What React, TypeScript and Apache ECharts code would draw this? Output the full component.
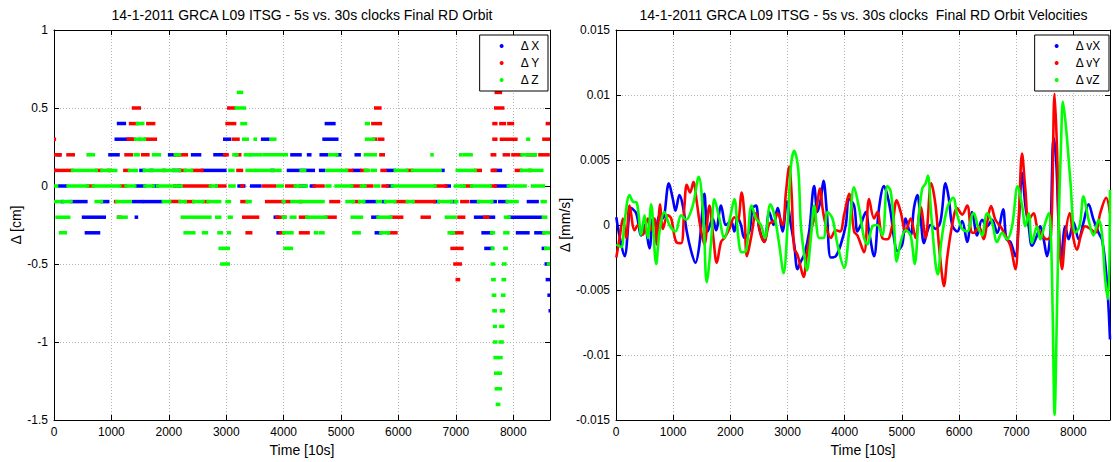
import React, { useEffect, useRef } from "react";
import * as echarts from "echarts";

const X_MAX = 8640;
const FONT = "Liberation Sans, Arial, Helvetica, sans-serif";

const titleLeft = "14-1-2011 GRCA L09 ITSG - 5s vs. 30s clocks Final RD Orbit";
const titleRight = "14-1-2011 GRCA L09 ITSG - 5s vs. 30s clocks  Final RD Orbit Velocities";

// Left panel: quantized differences, runs of constant value [start, end, level in cm]
const dxRuns: number[][] = [
  [1120, 1230, 0.4], [4740, 4880, 0.4],
  [1080, 1350, 0.3], [2970, 3060, 0.3], [3630, 3730, 0.3], [4700, 4930, 0.3],
  [70, 100, 0.2], [970, 1120, 0.2], [2010, 2100, 0.2], [2410, 2540, 0.2], [2800, 2970, 0.2], [4140, 4290, 0.2], [4430, 4460, 0.2], [4650, 4750, 0.2], [4930, 4980, 0.2], [5260, 5320, 0.2],
  [0, 10, 0.1], [1510, 1570, 0.1], [1690, 1710, 0.1], [2080, 2190, 0.1], [2580, 2980, 0.1], [3790, 3820, 0.1], [4080, 4520, 0.1], [4640, 4700, 0.1], [5220, 5330, 0.1], [5810, 5930, 0.1], [6770, 6780, 0.1], [7660, 7780, 0.1],
  [90, 210, 0], [1440, 1580, 0], [1730, 1800, 0], [2130, 2190, 0], [3220, 3310, 0], [3440, 3590, 0], [4290, 4370, 0], [4480, 4530, 0], [5810, 5890, 0], [6830, 6890, 0], [7690, 7910, 0],
  [140, 150, -0.1], [300, 560, -0.1], [830, 940, -0.1], [1380, 1540, -0.1], [1580, 1870, -0.1], [5400, 5600, -0.1], [5730, 5770, -0.1], [6630, 6700, -0.1], [6920, 6990, -0.1], [7270, 7390, -0.1], [7630, 7690, -0.1], [7760, 7890, -0.1], [8260, 8420, -0.1],
  [510, 880, -0.2], [1430, 1440, -0.2], [3850, 3900, -0.2], [5550, 5640, -0.2], [7340, 7540, -0.2], [7590, 7660, -0.2], [7930, 8480, -0.2],
  [560, 780, -0.3], [3900, 3920, -0.3], [5610, 5690, -0.3], [7470, 7620, -0.3], [8070, 8260, -0.3], [8390, 8530, -0.3],
  [7520, 7630, -0.4], [8520, 8560, -0.4],
  [8570, 8610, -0.5], [8590, 8630, -0.6], [8620, 8640, -0.7], [8640, 8640, -0.8],
];

const dyRuns: number[][] = [
  [7700, 7780, 0.6],
  [1380, 1490, 0.5], [3040, 3140, 0.5], [5600, 5680, 0.5], [7690, 7820, 0.5],
  [1330, 1450, 0.4], [1630, 1740, 0.4], [3010, 3150, 0.4], [5550, 5690, 0.4], [7660, 7700, 0.4], [7780, 7850, 0.4], [7920, 7990, 0.4], [8590, 8640, 0.4],
  [0, 10, 0.3], [1290, 1400, 0.3], [1590, 1770, 0.3], [3120, 3210, 0.3], [5570, 5610, 0.3], [5670, 5730, 0.3], [7660, 7700, 0.3], [7790, 8050, 0.3], [8530, 8640, 0.3],
  [0, 110, 0.2], [240, 340, 0.2], [1250, 1350, 0.2], [1540, 1640, 0.2], [2110, 2170, 0.2], [2190, 2310, 0.2], [2970, 3020, 0.2], [3180, 3240, 0.2], [5690, 5740, 0.2], [7630, 7680, 0.2], [7840, 7920, 0.2], [7990, 8140, 0.2], [8250, 8380, 0.2], [8460, 8610, 0.2],
  [0, 320, 0.1], [740, 830, 0.1], [940, 970, 0.1], [1230, 1290, 0.1], [1900, 1930, 0.1], [2190, 2290, 0.1], [2410, 2580, 0.1], [3200, 3270, 0.1], [5100, 5190, 0.1], [5360, 5450, 0.1], [5710, 5770, 0.1], [6150, 6240, 0.1], [7340, 7430, 0.1], [7630, 7690, 0.1], [8050, 8140, 0.1], [8280, 8300, 0.1],
  [590, 680, 0], [1170, 1250, 0], [2100, 2150, 0], [2250, 2720, 0], [2830, 2980, 0], [3270, 3290, 0], [3650, 3850, 0], [4050, 4200, 0], [4530, 4690, 0], [5190, 5350, 0], [5420, 5540, 0], [5730, 5810, 0], [6640, 6830, 0], [7150, 7270, 0], [7620, 7690, 0],
  [1070, 1080, -0.1], [2020, 2190, -0.1], [2290, 2430, -0.1], [2600, 2680, -0.1], [3270, 3360, -0.1], [3700, 3970, -0.1], [4000, 4110, -0.1], [4290, 4310, -0.1], [4820, 4960, -0.1], [5220, 5320, -0.1], [5940, 6150, -0.1], [6260, 6630, -0.1], [7100, 7210, -0.1],
  [1120, 1150, -0.2], [3300, 3550, -0.2], [3880, 4020, -0.2], [4290, 4400, -0.2], [4740, 4900, -0.2], [5870, 6060, -0.2], [6410, 6540, -0.2], [7050, 7140, -0.2], [7500, 7560, -0.2],
  [3360, 3430, -0.3], [3940, 4000, -0.3], [4290, 4430, -0.3], [5830, 5960, -0.3], [6930, 7110, -0.3],
  [6930, 7110, -0.4], [6980, 7080, -0.5], [7020, 7050, -0.6],
];

const dzRuns: number[][] = [
  [3210, 3270, 0.6],
  [3170, 3320, 0.5],
  [1450, 1550, 0.4], [3270, 3340, 0.4], [5440, 5480, 0.4],
  [1420, 1490, 0.3], [1490, 1580, 0.3], [3300, 3370, 0.3], [3500, 3510, 0.3], [3780, 3850, 0.3], [5440, 5570, 0.3], [8250, 8270, 0.3],
  [590, 690, 0.2], [1410, 1470, 0.2], [1730, 1840, 0.2], [2110, 2190, 0.2], [3130, 3190, 0.2], [3330, 3410, 0.2], [3430, 3610, 0.2], [3660, 4050, 0.2], [4800, 4930, 0.2], [5420, 5600, 0.2], [6580, 6590, 0.2], [7080, 7090, 0.2], [7140, 7270, 0.2], [8150, 8390, 0.2],
  [320, 740, 0.1], [830, 940, 0.1], [970, 1080, 0.1], [1310, 1440, 0.1], [1570, 1640, 0.1], [1670, 1900, 0.1], [1930, 2080, 0.1], [2110, 2190, 0.1], [2280, 2400, 0.1], [3060, 3120, 0.1], [3360, 3500, 0.1], [3530, 3790, 0.1], [3840, 3940, 0.1], [4300, 4370, 0.1], [4750, 5100, 0.1], [5420, 5480, 0.1], [5540, 5600, 0.1], [5940, 6150, 0.1], [6240, 6730, 0.1], [7020, 7340, 0.1], [8140, 8270, 0.1], [8300, 8500, 0.1],
  [0, 50, 0], [240, 590, 0], [680, 1150, 0], [1250, 1410, 0], [1580, 1730, 0], [1800, 2130, 0], [2150, 2220, 0], [2720, 2830, 0], [3060, 3140, 0], [3900, 3980, 0], [4200, 4400, 0], [4750, 4810, 0], [4910, 5190, 0], [5350, 5420, 0], [5600, 5660, 0], [5890, 6640, 0], [6990, 7080, 0], [7100, 7150, 0], [7270, 7600, 0], [7910, 8210, 0], [8330, 8530, 0],
  [0, 110, -0.1], [160, 300, -0.1], [730, 830, -0.1], [1090, 1330, -0.1], [1900, 2020, -0.1], [2190, 2290, -0.1], [2430, 2600, -0.1], [2680, 2890, -0.1], [3010, 3060, -0.1], [3360, 3420, -0.1], [3990, 4010, -0.1], [4140, 4250, -0.1], [4290, 4690, -0.1], [5100, 5220, -0.1], [5320, 5400, -0.1], [5630, 5690, -0.1], [5770, 5940, -0.1], [6150, 6260, -0.1], [6700, 6930, -0.1], [6990, 7020, -0.1], [7390, 7630, -0.1], [7890, 8070, -0.1], [8500, 8560, -0.1],
  [50, 260, -0.2], [1120, 1260, -0.2], [2230, 2720, -0.2], [2830, 2890, -0.2], [3050, 3090, -0.2], [3990, 4030, -0.2], [4130, 4200, -0.2], [4400, 4740, -0.2], [5190, 5360, -0.2], [5640, 5870, -0.2], [6830, 6990, -0.2], [7860, 7930, -0.2], [8520, 8570, -0.2],
  [110, 200, -0.3], [2280, 2440, -0.3], [2600, 2660, -0.3], [2870, 2920, -0.3], [3040, 3060, -0.3], [4000, 4150, -0.3], [4550, 4580, -0.3], [4640, 4690, -0.3], [5220, 5320, -0.3], [5690, 5830, -0.3], [6880, 6960, -0.3], [7620, 7660, -0.3], [7850, 7910, -0.3], [8530, 8640, -0.3],
  [2890, 3040, -0.4], [4020, 4140, -0.4], [7630, 7650, -0.4], [7850, 7880, -0.4], [8560, 8640, -0.4],
  [2920, 3040, -0.5], [7630, 7660, -0.5], [7830, 7860, -0.5], [8610, 8630, -0.5],
  [7640, 7670, -0.6], [7820, 7850, -0.6],
  [7650, 7680, -0.7], [7810, 7840, -0.7],
  [7660, 7690, -0.8], [7790, 7830, -0.8],
  [7670, 7690, -0.9], [7780, 7820, -0.9],
  [7670, 7700, -1.0], [7770, 7810, -1.0],
  [7680, 7710, -1.1], [7760, 7790, -1.1],
  [7690, 7720, -1.2], [7750, 7780, -1.2],
  [7700, 7780, -1.3],
  [7720, 7750, -1.4],
];

// Right panel: velocity differences [time, mm/s]
const dvx: number[][] = [
  [5, 0.0006], [60, -0.0008], [150, -0.0024], [266, 0.0013], [353, 0.0009], [441, -0.0008], [499, 0.0], [586, -0.0018], [645, 0.0005], [703, -0.0001], [761, 0.00075], [819, 0.0005], [924, 0.0032], [994, 0.002], [1040, 0.0011], [1110, 0.0023], [1168, 0.0015], [1238, -0.0005], [1314, -0.002], [1389, -0.0029], [1459, -0.0015], [1546, 0.0024], [1604, -0.0005], [1692, 0.0005], [1750, -0.0004], [1837, 0.0015], [1924, 0.0], [2011, 0.0003],
  [2070, -0.0005], [2128, 0.0006], [2186, 0.0], [2245, -0.001], [2332, -0.0005], [2390, 0.0013], [2448, 0.0015], [2506, -0.0003], [2594, -0.0013], [2681, 0.001], [2756, 0.0], [2826, 0.0013], [2913, -0.0005], [2989, 0.0018], [3059, 0.0], [3117, -0.0015], [3175, -0.0034], [3233, -0.0028], [3291, -0.0023], [3379, -0.0005], [3466, 0.003], [3524, 0.001], [3582, 0.002], [3629, 0.0034], [3687, 0.001], [3757, -0.0025], [3844, -0.0024], [3931, -0.0015], [4019, 0.0], [4077, 0.002],
  [4164, 0.0015], [4222, -0.0005], [4280, 0.0], [4368, 0.001], [4426, -0.0005], [4513, -0.0024], [4600, 0.0013], [4688, 0.003], [4746, 0.0023], [4804, 0.001], [4862, -0.001], [4920, -0.002], [5007, -0.0015], [5066, 0.0005], [5153, -0.0008], [5211, 0.0013], [5269, 0.0023], [5328, 0.0005], [5386, -0.0014], [5444, -0.0005], [5502, 0.0], [5589, -0.0003], [5676, 0.0003], [5764, 0.0032], [5822, 0.002], [5880, 0.0], [5967, -0.0005], [6054, 0.0003], [6142, -0.0013], [6229, 0.001],
  [6316, -0.0008], [6403, 0.0004], [6491, -0.0001], [6578, 0.0004], [6665, -0.0006], [6770, 0.0012], [6828, -0.0011], [6898, -0.0013], [6985, -0.0024], [7043, 0.0002], [7102, 0.004], [7160, 0.0015], [7218, -0.0001], [7276, -0.0016], [7363, -0.0008], [7421, -0.0001], [7480, -0.0011], [7538, -0.0024], [7596, -0.0006], [7654, 0.0067], [7701, 0.0048], [7742, -0.0001], [7782, -0.0026], [7858, -0.0001], [7916, -0.0011], [8003, 0.0002], [8090, -0.0011], [8177, 0.0002], [8265, 0.0016], [8352, 0.0004], [8440, -0.0006], [8498, -0.0011], [8556, -0.0029], [8602, -0.0054], [8640, -0.0088],
];

const dvy: number[][] = [
  [5, -0.0025], [63, -0.001], [121, 0.0005], [179, -0.001], [237, 0.0015], [325, -0.0004], [383, 0.0], [470, -0.00075], [557, 0.0005], [615, -0.0004], [674, 0.0005], [714, -0.0015], [772, 0.0016], [819, -0.0003], [906, 0.00075], [965, 0.0005], [1052, -0.0013], [1139, -0.0014], [1197, 0.0015], [1238, 0.0031], [1296, 0.0025], [1354, 0.0033], [1412, 0.0018], [1470, 0.0], [1546, -0.0015], [1634, 0.0015], [1703, -0.001], [1762, -0.0029], [1837, -0.0013], [1895, -0.001], [1983, -0.0003],
  [2070, 0.0006], [2128, 0.0003], [2198, 0.0025], [2245, 0.0008], [2291, -0.0024], [2361, -0.001], [2448, 0.0009], [2535, -0.0008], [2594, -0.0013], [2681, 0.0001], [2768, 0.0003], [2826, 0.0009], [2913, 0.0], [2972, 0.0025], [3030, 0.0045], [3070, 0.0025], [3117, -0.0018], [3175, -0.0023], [3233, -0.0033], [3280, -0.004], [3338, -0.0023], [3408, -0.0005], [3495, 0.001], [3571, 0.0028], [3612, 0.0013], [3670, 0.0], [3757, -0.001], [3844, -0.0004], [3920, -0.0005], [3990, 0.0008], [4077, 0.0024],
  [4164, -0.0005], [4222, -0.0008], [4339, -0.0021], [4426, 0.002], [4513, 0.0005], [4571, 0.001], [4658, -0.001], [4746, -0.0011], [4833, 0.0], [4909, 0.0019], [4979, 0.001], [5066, -0.0005], [5153, 0.0005], [5240, -0.001], [5328, 0.0014], [5415, -0.001], [5513, 0.0032], [5589, 0.0015], [5647, -0.0015], [5706, -0.004], [5735, -0.0047], [5793, -0.0025], [5880, 0.0], [5967, 0.0013], [6054, 0.0008], [6142, 0.0015], [6212, -0.0005],
  [6258, -0.0006], [6345, -0.0001], [6432, -0.0011], [6491, 0.0002], [6560, 0.00145], [6636, 0.0004], [6723, -0.0001], [6810, -0.0008], [6898, -0.0016], [6985, -0.0034], [7043, 0.0004], [7102, 0.0055], [7160, 0.0027], [7218, 0.0004], [7305, 0.0009], [7363, -0.0001], [7451, -0.0008], [7538, -0.0011], [7608, -0.0008], [7671, 0.0101], [7712, 0.006], [7753, -0.0011], [7800, -0.0034], [7858, -0.0008], [7933, 0.0009], [8003, -0.0011], [8061, -0.0019], [8131, -0.0008], [8207, -0.0001], [8294, -0.0003], [8381, -0.0006], [8469, 0.0009], [8573, 0.0021], [8640, 0.0009],
];

const dvz: number[][] = [
  [5, -0.0015], [92, -0.0017], [150, 0.0003], [237, 0.0023], [295, 0.0018], [365, 0.0017], [441, -0.00075], [499, 0.00075], [557, -0.001], [615, 0.0016], [703, -0.003], [761, -0.0005], [848, 0.001], [935, 0.0], [1040, -0.0005], [1139, 0.00075], [1226, 0.0004], [1343, 0.0015], [1447, 0.0037], [1529, 0.0005], [1587, -0.0044], [1663, -0.0013], [1721, 0.002], [1808, 0.0005], [1895, -0.001], [1983, 0.0003],
  [2070, 0.002], [2140, -0.001], [2198, -0.0021], [2274, -0.002], [2372, 0.0015], [2448, 0.0005], [2535, 0.0], [2605, -0.001], [2698, 0.0016], [2768, 0.0008], [2855, -0.0015], [2931, -0.0037], [3001, 0.0], [3059, 0.0045], [3117, 0.0057], [3187, 0.0043], [3233, 0.0], [3291, -0.0023], [3338, -0.0035], [3408, -0.001], [3466, 0.0015], [3553, -0.001], [3629, -0.001], [3699, 0.001], [3786, 0.0005], [3873, -0.0015], [3990, -0.0033], [4077, -0.0005],
  [4164, 0.0029], [4251, 0.0013], [4339, -0.001], [4397, -0.0015], [4484, -0.0001], [4571, 0.0], [4658, -0.0008], [4746, 0.003], [4804, 0.0026], [4862, 0.0], [4909, -0.0028], [4979, -0.0013], [5066, -0.0004], [5153, -0.0008], [5223, -0.003], [5298, 0.0008], [5357, 0.0028], [5415, 0.0032], [5455, 0.0038], [5513, 0.0008], [5589, -0.003], [5630, -0.0038], [5688, -0.0013], [5793, 0.0013], [5897, 0.0021], [5967, 0.0008], [6054, -0.0003], [6142, -0.0005], [6229, 0.0008],
  [6258, 0.0009], [6328, -0.0001], [6403, -0.0008], [6491, 0.0009], [6578, 0.0002], [6665, -0.0013], [6752, -0.0006], [6840, -0.0011], [6927, -0.0001], [7026, 0.003], [7102, 0.0015], [7160, -0.0001], [7218, 0.0009], [7276, -0.0014], [7363, -0.0001], [7421, -0.0011], [7491, -0.0001], [7567, 0.0009], [7608, -0.0011], [7637, -0.0067], [7671, -0.0146], [7712, -0.0067], [7747, 0.0009], [7782, 0.006], [7817, 0.0095], [7875, 0.0073], [7945, 0.0035], [8032, -0.0006], [8108, -0.0001], [8177, 0.0022], [8265, 0.0004], [8352, -0.0008], [8440, 0.0004], [8498, -0.0006], [8556, -0.0042], [8610, -0.0057], [8640, 0.0027],
];

const BLUE = "#0000ff";
const RED = "#ff0000";
const GREEN = "#00ff00";

function runSeries(name: string, data: number[][], color: string) {
  return {
    type: "custom",
    name,
    xAxisIndex: 0,
    yAxisIndex: 0,
    data,
    encode: { x: [0, 1], y: 2 },
    itemStyle: { color },
    clip: true,
    renderItem: (params: any, api: any) => {
      const lvl = api.value(2);
      const a = api.coord([api.value(0), lvl]);
      const b = api.coord([api.value(1), lvl]);
      const w = Math.max(b[0] - a[0], 0) + 3;
      return {
        type: "rect",
        shape: { x: a[0] - 1.5, y: a[1] - 1.75, width: w, height: 3.5 },
        style: { fill: color },
      };
    },
  };
}

function lineSeries(name: string, data: number[][], color: string) {
  return {
    type: "line",
    name,
    xAxisIndex: 2,
    yAxisIndex: 2,
    data,
    showSymbol: false,
    smooth: 0.35,
    color,
    itemStyle: { color },
    lineStyle: { color, width: 2.6 },
  };
}

const axisLineStyle = { show: true, onZero: false, lineStyle: { color: "#000", width: 1 } };
const tickStyle = { show: true, inside: true, length: 5, lineStyle: { color: "#000" } };
const gridStyle = { show: true, lineStyle: { color: "#b4b4b4", type: [1, 2], width: 1 } };
const nameStyle = { fontSize: 14, color: "#000", fontFamily: FONT };
const labelBase = { fontSize: 12, color: "#000", fontFamily: FONT };

function xAxes(gridIndex: number) {
  return [
    {
      type: "value", gridIndex, min: 0, max: X_MAX, interval: 1000, position: "bottom",
      axisLine: axisLineStyle, axisTick: tickStyle, splitLine: gridStyle,
      axisLabel: { ...labelBase, margin: 6, formatter: (v: number) => (v > 8600 ? "" : String(v)) },
      name: "Time [10s]", nameLocation: "middle", nameGap: 23, nameTextStyle: nameStyle,
    },
    {
      type: "value", gridIndex, min: 0, max: X_MAX, interval: 1000, position: "top",
      axisLine: axisLineStyle, axisTick: tickStyle, splitLine: { show: false }, axisLabel: { show: false },
    },
  ];
}

function yAxes(gridIndex: number, min: number, max: number, interval: number, name: string, digits: number) {
  return [
    {
      type: "value", gridIndex, min, max, interval, position: "left",
      axisLine: axisLineStyle, axisTick: tickStyle, splitLine: gridStyle,
      axisLabel: { ...labelBase, margin: 6, formatter: (v: number) => String(+v.toFixed(digits)) },
      name, nameLocation: "middle", nameRotate: 90, nameGap: 29, nameTextStyle: nameStyle,
    },
    {
      type: "value", gridIndex, min, max, interval, position: "right",
      axisLine: axisLineStyle, axisTick: tickStyle, splitLine: { show: false }, axisLabel: { show: false },
    },
  ];
}

function legendFor(names: string[], right: number) {
  return {
    data: names,
    orient: "vertical",
    right,
    top: 35,
    icon: "circle",
    itemWidth: 4,
    itemHeight: 4,
    itemGap: 3,
    padding: [4, 8, 4, 20],
    backgroundColor: "#fff",
    borderColor: "#000",
    borderWidth: 1,
    borderRadius: 0,
    selectedMode: false,
    textStyle: { fontSize: 12, color: "#000", fontFamily: FONT, lineHeight: 14, padding: [0, 0, 0, 12] },
  };
}

export default function App() {
  const ref = useRef<HTMLDivElement>(null);
  useEffect(() => {
    if (!ref.current) return;
    const chart = echarts.init(ref.current, undefined, { renderer: "svg" });
    const option: any = {
      animation: false,
      backgroundColor: "#fff",
      textStyle: { fontFamily: FONT },
      grid: [
        { left: 54, top: 30, width: 496, height: 391 },
        { left: 616, top: 30, width: 495, height: 391 },
      ],
      xAxis: [...xAxes(0), ...xAxes(1)],
      yAxis: [
        ...yAxes(0, -1.5, 1, 0.5, "Δ [cm]", 2),
        ...yAxes(1, -0.015, 0.015, 0.005, "Δ [mm/s]", 4),
      ],
      legend: [
        legendFor(["Δ X", "Δ Y", "Δ Z"], 565),
        legendFor(["Δ vX", "Δ vY", "Δ vZ"], 4),
      ],
      graphic: [
        { type: "text", x: 302, y: 15, style: { text: titleLeft, fontSize: 14, fontFamily: FONT, fill: "#000", align: "center", verticalAlign: "middle" } },
        { type: "text", x: 863.5, y: 15, style: { text: titleRight, fontSize: 14, fontFamily: FONT, fill: "#000", align: "center", verticalAlign: "middle" } },
      ],
      series: [
        runSeries("Δ X", dxRuns, BLUE),
        runSeries("Δ Y", dyRuns, RED),
        runSeries("Δ Z", dzRuns, GREEN),
        lineSeries("Δ vX", dvx, BLUE),
        lineSeries("Δ vY", dvy, RED),
        lineSeries("Δ vZ", dvz, GREEN),
      ],
    };
    chart.setOption(option);
    return () => chart.dispose();
  }, []);
  return (
    <div
      ref={ref}
      style={{ position: "absolute", left: 0, top: 0, width: 1113, height: 462, background: "#fff" }}
    />
  );
}
